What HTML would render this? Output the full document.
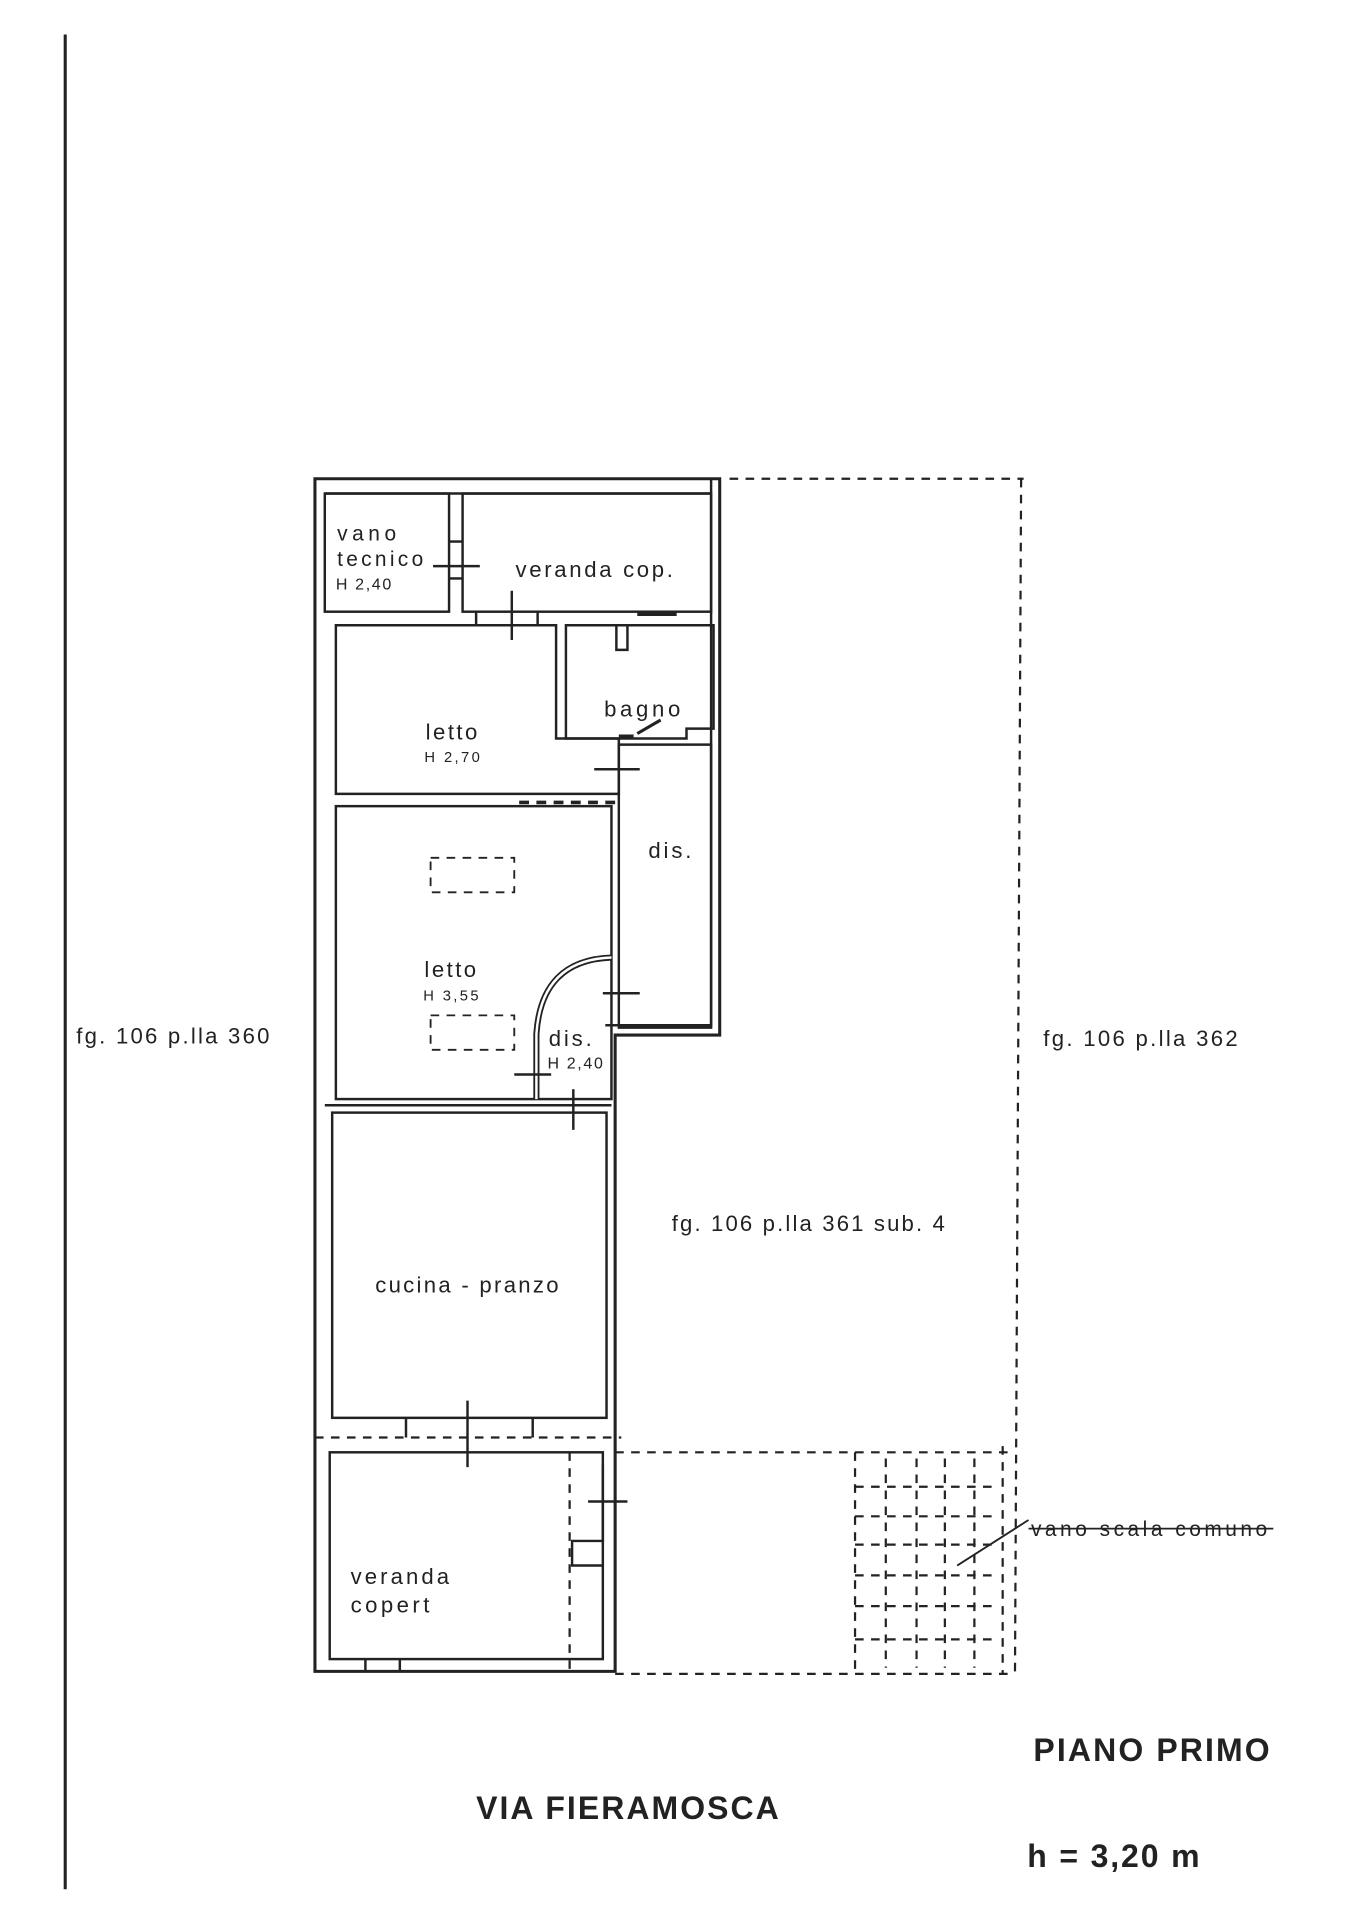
<!DOCTYPE html>
<html><head><meta charset="utf-8"><style>
html,body{margin:0;padding:0;background:#fff;width:1357px;height:1920px;overflow:hidden}
svg{display:block}
text{font-family:"Liberation Sans",sans-serif;fill:#222}
</style></head><body>
<svg width="1357" height="1920" viewBox="0 0 1103 1560" preserveAspectRatio="none" xmlns="http://www.w3.org/2000/svg">
<g stroke="#222" fill="none" stroke-width="2">
<line x1="53" y1="28" x2="53" y2="1535" stroke-width="2.5"/>
<path d="M256 389 H585 V841 H500 V1358 H256 Z" stroke-width="2.5"/>
<path d="M264 401 H578 M578 389 V833 H492"/>
<rect x="264" y="401" width="101" height="96"/>
<rect x="376" y="401" width="202" height="96"/>
<line x1="365" y1="440" x2="376" y2="440"/><line x1="365" y1="470" x2="376" y2="470"/>
<line x1="352" y1="460" x2="390" y2="460"/>
<line x1="387" y1="497" x2="387" y2="508"/><line x1="437" y1="497" x2="437" y2="508"/>
<line x1="416" y1="480" x2="416" y2="520"/>
<line x1="518" y1="499" x2="550" y2="499" stroke-width="3"/>
<path d="M273 508 H452 V600 H503 V645 H273 Z"/>
<path d="M460 508 H580 V592 H558 V600 H460 Z"/>
<path d="M501 508 V528 H510 V508"/>
<path d="M503 598 H515 M518 596 L537 585" stroke-width="2.5"/>
<line x1="483" y1="625" x2="520" y2="625"/>
<path d="M503 605 H578 V835 H503 Z"/>
<line x1="490" y1="807" x2="520" y2="807"/>
<line x1="422" y1="652" x2="500" y2="652" stroke-dasharray="8 6" stroke-width="3"/>
<rect x="273" y="655" width="224" height="238"/>
<path d="M497 778 Q440 780 436 840 V893" stroke-width="5"/>
<path d="M497 778 Q440 780 436 840 V893" stroke="#fff" stroke-width="2"/>
<line x1="418" y1="873" x2="448" y2="873"/>
<line x1="466" y1="885" x2="466" y2="918"/>
<g stroke-dasharray="7 6" stroke-width="1.5">
<rect x="350" y="697" width="68" height="28"/>
<rect x="350" y="825" width="68" height="28"/>
</g>
<rect x="270" y="904" width="223" height="248"/>
<line x1="264" y1="898" x2="497" y2="898"/>
<line x1="380" y1="1138" x2="380" y2="1192"/>
<line x1="330" y1="1152" x2="330" y2="1168"/><line x1="433" y1="1152" x2="433" y2="1168"/>
<rect x="268" y="1180" width="222" height="168"/>
<path d="M490 1190 V1252 H465 V1272 H490" />
<line x1="478" y1="1220" x2="510" y2="1220"/>
<line x1="297" y1="1348" x2="297" y2="1358"/><line x1="325" y1="1348" x2="325" y2="1358"/>
<g stroke-dasharray="7 6" stroke-width="1.8">
<line x1="256" y1="1168" x2="505" y2="1168"/>
<line x1="463" y1="1180" x2="463" y2="1358"/>
<line x1="593" y1="389" x2="832" y2="389"/>
<line x1="830" y1="389" x2="825" y2="1360"/>
<line x1="500" y1="1180" x2="825" y2="1180"/>
<line x1="500" y1="1360" x2="825" y2="1360"/>
<line x1="695" y1="1180" x2="695" y2="1360"/>
<line x1="815" y1="1175" x2="815" y2="1360"/>
<line x1="695" y1="1208" x2="810" y2="1208"/>
<line x1="695" y1="1232" x2="810" y2="1232"/>
<line x1="695" y1="1255" x2="810" y2="1255"/>
<line x1="695" y1="1280" x2="810" y2="1280"/>
<line x1="695" y1="1305" x2="810" y2="1305"/>
<line x1="695" y1="1332" x2="810" y2="1332"/>
<line x1="720" y1="1185" x2="720" y2="1355"/>
<line x1="745" y1="1185" x2="745" y2="1355"/>
<line x1="768" y1="1185" x2="768" y2="1355"/>
<line x1="792" y1="1185" x2="792" y2="1355"/>
</g>
<line x1="778" y1="1272" x2="836" y2="1235" stroke-width="1.5"/>
</g>
<text x="274" y="439" font-size="17" textLength="48">vano</text>
<text x="274" y="460" font-size="17" textLength="70">tecnico</text>
<text x="273" y="479" font-size="13" textLength="45">H 2,40</text>
<text x="419" y="469" font-size="18" textLength="128">veranda cop.</text>
<text x="491" y="582" font-size="18" textLength="62">bagno</text>
<text x="346" y="601" font-size="18" textLength="42">letto</text>
<text x="345" y="619" font-size="12" textLength="45">H 2,70</text>
<text x="527" y="697" font-size="18" textLength="35">dis.</text>
<text x="345" y="794" font-size="18" textLength="42">letto</text>
<text x="344" y="813" font-size="12" textLength="45">H 3,55</text>
<text x="446" y="850" font-size="18" textLength="35">dis.</text>
<text x="445" y="868" font-size="13" textLength="45">H 2,40</text>
<text x="305" y="1050" font-size="18" textLength="149">cucina - pranzo</text>
<text x="285" y="1287" font-size="18" textLength="80">veranda</text>
<text x="285" y="1310" font-size="18" textLength="64">copert</text>
<text x="62" y="848" font-size="18" textLength="157">fg. 106 p.lla 360</text>
<text x="848" y="850" font-size="18" textLength="158">fg. 106 p.lla 362</text>
<text x="546" y="1000" font-size="18" textLength="222">fg. 106 p.lla 361 sub. 4</text>
<text x="838" y="1248" font-size="17" textLength="192">vano scala comuno</text>
<line x1="836" y1="1242" x2="1035" y2="1242" stroke="#222" stroke-width="1.5"/>
<text x="840" y="1431" font-size="26" font-weight="600" textLength="192">PIANO PRIMO</text>
<text x="387" y="1478" font-size="26" font-weight="600" textLength="246">VIA FIERAMOSCA</text>
<text x="835" y="1517" font-size="26" font-weight="600" textLength="140">h = 3,20 m</text>
</svg>
</body></html>
